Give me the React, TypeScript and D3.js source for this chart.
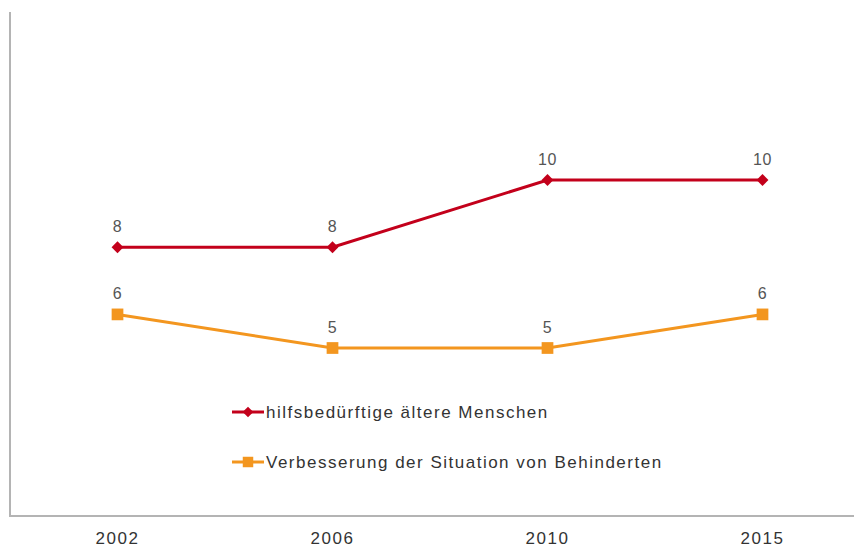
import { useEffect, useRef } from "react";
import * as d3 from "d3";

const W = 854;
const H = 548;

const YEARS = ["2002", "2006", "2010", "2015"];
const ELDERLY = [8, 8, 10, 10];
const DISABLED = [6, 5, 5, 6];
const SERIES_NAMES = [
  "hilfsbedürftige ältere Menschen",
  "Verbesserung der Situation von Behinderten",
];

const RED = "#C3001B";
const ORANGE = "#F3961F";
const TEXT = "#555555";
const AXIS = "#b4b4b4";
const FONT = "'Liberation Sans', Arial, sans-serif";

export default function App() {
  const svgRef = useRef<SVGSVGElement>(null);

  useEffect(() => {
    if (!svgRef.current) return;
    const svg = d3.select(svgRef.current);
    svg.selectAll("*").remove();

    const x = d3.scaleBand<string>().domain(YEARS).range([10, 870]).padding(0);
    const y = d3.scaleLinear().domain([0, 15]).range([516, 12]);
    const cx = (d: string) => (x(d) ?? 0) + x.bandwidth() / 2;

    // axes
    svg.append("line")
      .attr("x1", 10).attr("x2", 10).attr("y1", y(15)).attr("y2", y(0))
      .attr("stroke", AXIS).attr("stroke-width", 2);
    svg.append("line")
      .attr("x1", 9).attr("x2", W).attr("y1", y(0)).attr("y2", y(0))
      .attr("stroke", AXIS).attr("stroke-width", 2);

    svg.append("g").selectAll("text").data(YEARS).join("text")
      .attr("x", (d) => cx(d)).attr("y", 544)
      .attr("text-anchor", "middle")
      .attr("font-family", FONT).attr("font-size", "17px")
      .attr("letter-spacing", "1.5px")
      .attr("fill", "#333").text((d) => d);

    const line = d3.line<number>()
      .x((_, i) => cx(YEARS[i]))
      .y((v) => y(v));

    const series = [
      { vals: ELDERLY, color: RED, sym: d3.symbolDiamond2, size: 90 },
      { vals: DISABLED, color: ORANGE, sym: d3.symbolSquare2, size: 175 },
    ];

    series.forEach((s) => {
      svg.append("path")
        .attr("d", line(s.vals) as string)
        .attr("fill", "none").attr("stroke", s.color).attr("stroke-width", 3);

      const sym = d3.symbol().type(s.sym).size(s.size);
      svg.append("g").selectAll("path").data(s.vals).join("path")
        .attr("transform", (v, i) => `translate(${cx(YEARS[i])},${y(v)})`)
        .attr("d", sym() as string)
        .attr("fill", s.color);

      svg.append("g").selectAll("text").data(s.vals).join("text")
        .attr("x", (_, i) => cx(YEARS[i]))
        .attr("y", (v) => y(v) - 15)
        .attr("text-anchor", "middle")
        .attr("font-family", FONT).attr("font-size", "16px")
        .attr("letter-spacing", "0.5px")
        .attr("fill", TEXT).text((v) => String(v));
    });

    // legend
    const leg = svg.append("g");
    series.forEach((s, i) => {
      const ly = 412 + i * 50;
      leg.append("line")
        .attr("x1", 232).attr("x2", 264).attr("y1", ly).attr("y2", ly)
        .attr("stroke", s.color).attr("stroke-width", 3);
      leg.append("path")
        .attr("transform", `translate(248,${ly})`)
        .attr("d", d3.symbol().type(s.sym).size(s.size * 0.8)() as string)
        .attr("fill", s.color);
      leg.append("text")
        .attr("x", 266).attr("y", ly + 6)
        .attr("font-family", FONT).attr("font-size", "17px")
        .attr("letter-spacing", "1.5px")
        .attr("fill", "#333").text(SERIES_NAMES[i]);
    });
  }, []);

  return (
    <svg
      ref={svgRef}
      width={W}
      height={H}
      viewBox={`0 0 ${W} ${H}`}
      style={{ position: "absolute", left: 0, top: 0, background: "#fff" }}
    />
  );
}
